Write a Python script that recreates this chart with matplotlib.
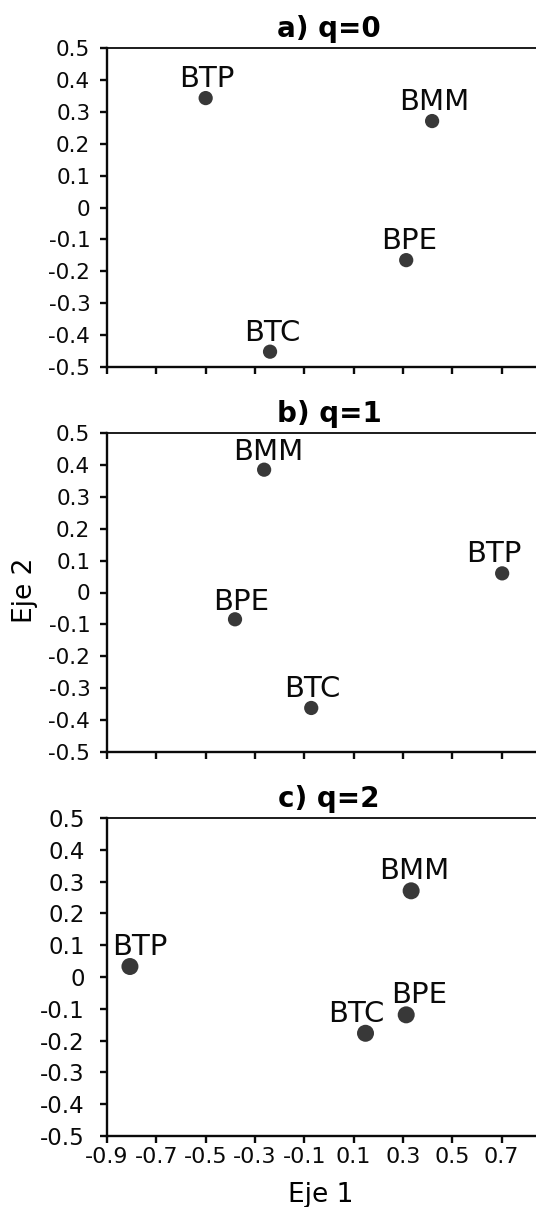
import matplotlib
matplotlib.use("Agg")
import matplotlib.pyplot as plt

plt.rcParams['font.family'] = ['DejaVu Sans']
plt.rcParams['axes.unicode_minus'] = False

# datos de los tres paneles (coordenadas de ordenacion)
titles = ['a) q=0', 'b) q=1', 'c) q=2']
labels_a = ['BTP', 'BMM', 'BPE', 'BTC']
eje1_a = [-0.50, 0.418, 0.313, -0.239]
eje2_a = [0.343, 0.271, -0.165, -0.452]

labels_b = ['BMM', 'BTP', 'BPE', 'BTC']
eje1_b = [-0.263, 0.702, -0.381, -0.072]
eje2_b = [0.385, 0.060, -0.084, -0.362]

labels_c = ['BTP', 'BMM', 'BPE', 'BTC']
eje1_c = [-0.807, 0.333, 0.313, 0.148]
eje2_c = [0.033, 0.271, -0.119, -0.177]

xticks = [-0.9, -0.7, -0.5, -0.3, -0.1, 0.1, 0.3, 0.5, 0.7]
yticks = [0.5, 0.4, 0.3, 0.2, 0.1, 0.0, -0.1, -0.2, -0.3, -0.4, -0.5]

# desplazamiento de las etiquetas (pixeles)
offs_a = [(1, 11), (2, 11), (3, 11), (2, 11)]
offs_b = [(4, 10), (-8, 11), (6, 9), (1, 11)]
offs_c = [(10, 12), (3, 12), (13, 12), (-9, 11)]

W, H = 536, 1207
fig = plt.figure(figsize=(W / 100, H / 100), dpi=100)

# posicion de cada panel en pixeles: izquierda, arriba, abajo
left_px, right_px = 107, 551
boxes = [(48, 367), (433, 752), (818, 1136)]

paneles = [
    (labels_a, eje1_a, eje2_a, offs_a),
    (labels_b, eje1_b, eje2_b, offs_b),
    (labels_c, eje1_c, eje2_c, offs_c),
]

for i, (labs, xs, ys, offs) in enumerate(paneles):
    top, bot = boxes[i]
    ax = fig.add_axes([left_px / W, 1 - bot / H, (right_px - left_px) / W, (bot - top) / H])
    big = (i == 2)
    ms = 150 if big else 105
    ax.scatter(xs, ys, s=ms, color='#383838', edgecolors='none', zorder=3)
    for lab, x, y, o in zip(labs, xs, ys, offs):
        ax.annotate(lab, (x, y), xytext=o, textcoords='offset pixels',
                    ha='center', va='baseline', fontsize=21, color='#0a0a0a')
    ax.set_xlim(-0.9, 0.9)
    ax.set_ylim(-0.5, 0.5)
    ax.set_xticks(xticks)
    ax.set_yticks(yticks)
    ax.set_yticklabels(['0' if v == 0 else ('%.1f' % v) for v in yticks])
    if i == 2:
        ax.set_xticklabels(['%.1f' % v for v in xticks])
    else:
        ax.set_xticklabels([])
    for sp in ['left', 'bottom', 'top']:
        ax.spines[sp].set_linewidth(1.7)
        ax.spines[sp].set_color('#0a0a0a')
    ax.spines['top'].set_linewidth(1.3)
    ax.spines['right'].set_visible(False)
    ax.tick_params(axis='both', direction='out', length=5, width=1.7, color='#0a0a0a',
                   labelcolor='#0a0a0a')
    ax.tick_params(axis='y', labelsize=16.5 if big else 15.5, pad=11 if big else 7)
    ax.tick_params(axis='x', labelsize=16, pad=3)
    ax.set_title(titles[i], fontsize=20, fontweight='bold', pad=8)

fig.text(25 / W, 1 - 590 / H, 'Eje 2', rotation=90, ha='center', va='center', fontsize=19)
fig.text(321 / W, 1 - 1202 / H, 'Eje 1', ha='center', va='baseline', fontsize=19)

fig.savefig('out.png', dpi=100)
